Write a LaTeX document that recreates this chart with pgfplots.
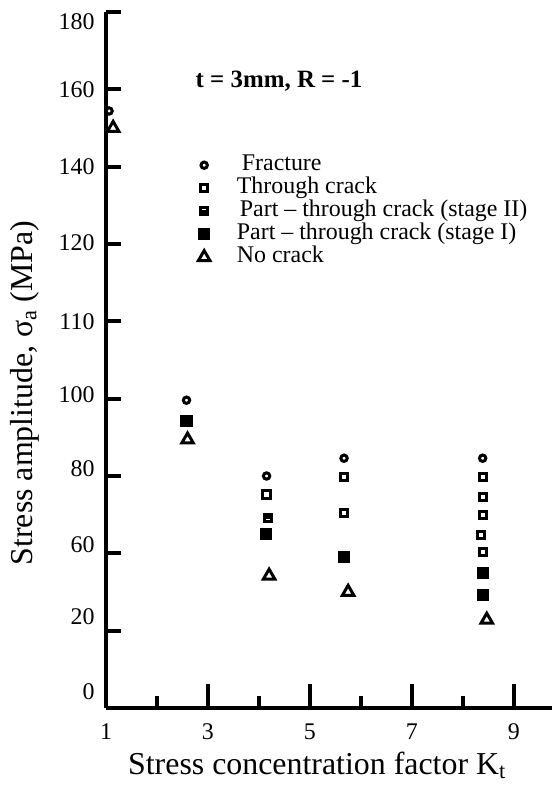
\documentclass[border=0pt]{standalone}
\usepackage{pgfplots}
\pgfplotsset{compat=1.18}
\usepackage{fontspec}
\setmainfont{Liberation Serif}

% open square crossed by a horizontal bar (part-through crack, stage II)
\pgfdeclareplotmark{squaremid}{%
  \pgfpathrectangle{\pgfqpoint{-\pgfplotmarksize}{-\pgfplotmarksize}}{\pgfqpoint{2\pgfplotmarksize}{2\pgfplotmarksize}}%
  \pgfpathmoveto{\pgfqpoint{-\pgfplotmarksize}{0pt}}%
  \pgfpathlineto{\pgfqpoint{\pgfplotmarksize}{0pt}}%
  \pgfusepathqstroke}

\tikzset{every mark/.append style={line width=3bp, solid}}
\pgfplotsset{
  pt/.style={only marks, black, line width=3bp, mark options={line width=3bp}},
}

\begin{document}
\begin{tikzpicture}
\useasboundingbox (-106bp,-90bp) rectangle (446bp,708bp);
\begin{axis}[
  scale only axis, width=446bp, height=696bp,
  xmin=1, xmax=9.75, ymin=0, ymax=9,
  axis x line=bottom, axis y line=left,
  axis line style={line width=4bp, black, -},
  xtick={1,3,5,7,9}, minor xtick={2,4,6,8},
  ytick={0,...,9},
  yticklabels={0,20,60,80,100,110,120,140,160,180},
  tick align=inside,
  major tick length=15bp, minor tick length=12bp,
  tick style={black, line width=4bp},
  xtick style={/pgfplots/major tick length=24bp, /pgfplots/minor tick length=12bp},
  /pgf/number format/assume math mode=true,
  tick label style={font=\fontsize{24}{28}\selectfont},
  xticklabel style={yshift=-12bp},
  yticklabel style={xshift=-8bp, yshift={{16,14,9,7,4,0,1,0,0,-10}[\ticknum]}},
  xlabel={Stress concentration factor K\textsubscript{t}},
  ylabel={Stress amplitude, σ\textsubscript{a} (MPa)},
  label style={font=\fontsize{32}{38}\selectfont},
  xlabel style={at={(rel axis cs:0.473,0)}, anchor=center, yshift=-57bp},
  ylabel style={at={(rel axis cs:0,0.4526)}, anchor=center, rotate=0, yshift=81bp},
  clip=false,
  legend cell align=left,
  legend style={at={(axis cs:2.81,7.17)}, anchor=north west, draw=none, fill=none,
    inner sep=0pt, column sep=25bp,
    nodes={font=\fontsize{24}{28}\selectfont, text height=15bp, text depth=5bp, inner ysep=1.5bp}},
]
% fracture
\addplot[pt, mark=o, mark size=3.2bp] coordinates {
  (1.06,7.72) (2.58,3.98) (4.15,3.00) (5.67,3.23) (8.39,3.23)};
\addlegendentry{\hspace{5bp}Fracture}
% through crack
\addplot[pt, mark=square, mark size=3.6bp] coordinates {
  (4.15,2.76) (5.67,2.99) (5.67,2.52)
  (8.39,2.99) (8.39,2.73) (8.39,2.50) (8.35,2.24) (8.39,2.02)};
\addlegendentry{Through crack}
% part-through crack, stage II
\addplot[pt, mark=squaremid, mark size=3.6bp] coordinates {(4.18,2.46)};
\addlegendentry{\hspace{3bp}Part – through crack (stage II)}
% part-through crack, stage I
\addplot[pt, mark=square*, mark size=4.6bp] coordinates {
  (2.58,3.71) (4.14,2.25) (5.67,1.95) (8.39,1.75) (8.39,1.46)};
\addlegendentry{Part – through crack (stage I)}
% no crack
\addplot[pt, mark=triangle, mark size=6.6bp] coordinates {
  (1.14,7.50) (2.60,3.47) (4.20,1.71) (5.75,1.50) (8.47,1.14)};
\addlegendentry{No crack}

\node[anchor=west, font=\bfseries\fontsize{25}{29}\selectfont] at (axis cs:2.69,8.10) {t = 3mm, R = -1};
\end{axis}
\end{tikzpicture}
\end{document}
